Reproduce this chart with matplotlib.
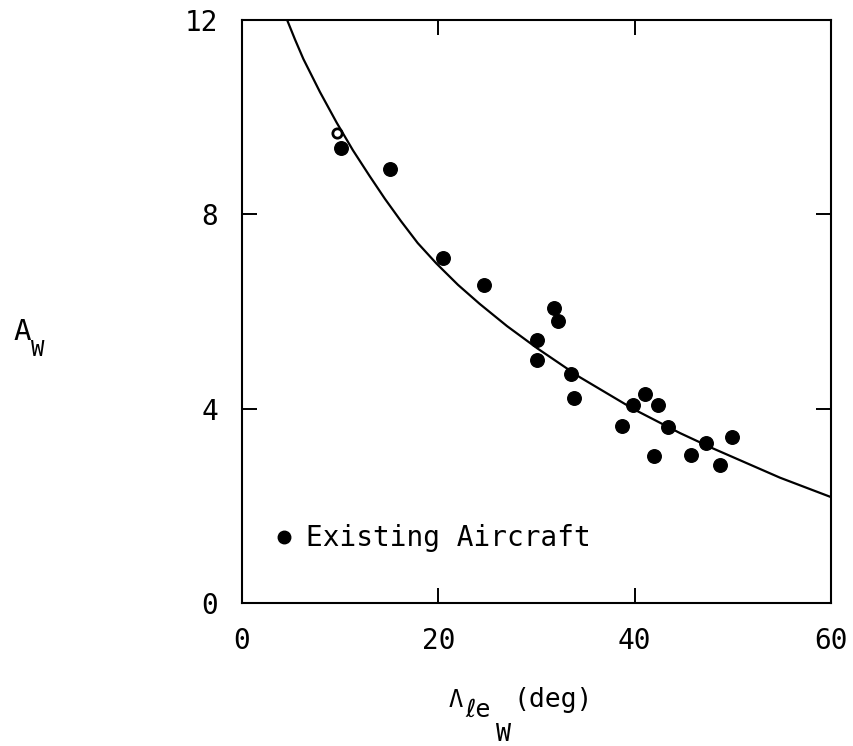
import matplotlib.pyplot as plt
from matplotlib.lines import Line2D

plt.rcParams['font.family'] = ['DejaVu Sans Mono', 'DejaVu Sans']

W, H = 854, 746

# existing aircraft (sweep deg, aspect ratio)
sweep = [10.05, 15.07, 20.5, 24.7, 31.8, 32.2, 30.07, 30.0, 33.5, 33.8,
         38.7, 39.8, 41.0, 42.4, 43.4, 42.0, 45.7, 47.3, 48.7, 49.9]
aspect = [9.36, 8.93, 7.10, 6.54, 6.08, 5.81, 5.41, 5.00, 4.71, 4.23,
          3.65, 4.08, 4.31, 4.08, 3.63, 3.02, 3.04, 3.29, 2.85, 3.41]
# one point drawn as an open circle
open_sweep = [9.7]
open_aspect = [9.68]

# trend curve
curve_x = [4.6, 5.4, 6.25, 7.94, 9.64, 11.3, 13.0, 14.56, 16.2, 17.9, 19.8, 22.0,
           24.2, 27.0, 30.1, 34.4, 39.9, 44.6, 48.0, 51.4, 54.8, 60.0]
curve_y = [12.0, 11.6, 11.2, 10.52, 9.89, 9.32, 8.79, 8.32, 7.86, 7.41, 6.99, 6.55,
           6.16, 5.70, 5.24, 4.65, 3.99, 3.50, 3.18, 2.88, 2.58, 2.18]

fig = plt.figure(figsize=(8.54, 7.46), dpi=100)
ax = fig.add_axes([0.2834, 0.1917, 0.6897, 0.7813])

ax.plot(curve_x, curve_y, color='black', lw=1.6)
ax.scatter(sweep, aspect, s=95, color='black', zorder=3)
ax.scatter(open_sweep, open_aspect, s=45, facecolor='white', edgecolor='black',
           linewidth=2, zorder=3)

ax.set_xlim(0, 60)
ax.set_ylim(0, 12)
ax.set_xticks([0, 20, 40, 60])
ax.set_yticks([0, 4, 8, 12])
ax.tick_params(direction='in', length=11, width=1.4, labelsize=20, pad=17,
               top=True, right=True)
for s in ax.spines.values():
    s.set_linewidth(1.5)

handle = Line2D([], [], marker='o', color='black', linestyle='none', markersize=9)
ax.legend([handle], ['Existing Aircraft'], loc='lower left',
          bbox_to_anchor=(0.0, 0.044), frameon=False, fontsize=20,
          handletextpad=0.2, handlelength=1.2)


def put(px, py, s, size):
    fig.text(px / W, 1 - py / H, s, fontsize=size, ha='left', va='baseline')


# y label  A_W
put(13, 340, 'A', 21)
put(31, 356, 'W', 16)

# x label  Λ_{ℓe_W}(deg)
put(449, 707, 'Λ', 17)
put(465, 717, 'ℓe', 18)
put(496, 741, 'W', 18)
put(514, 707, '(deg)', 19)

fig.savefig('out.png', dpi=100)
